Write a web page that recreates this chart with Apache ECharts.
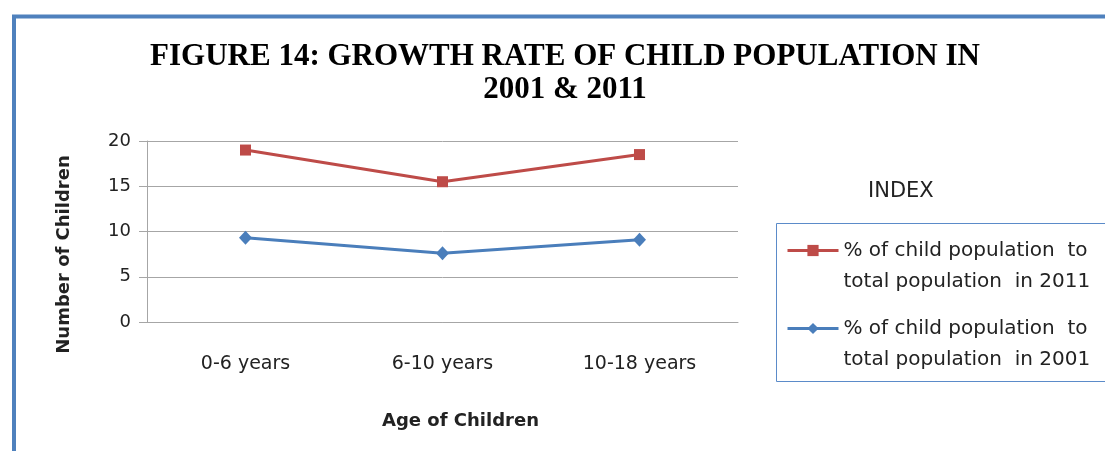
<!DOCTYPE html>
<html>
<head>
<meta charset="utf-8">
<script src="https://cdn.jsdelivr.net/npm/echarts@6/dist/echarts.min.js"></script>
<style>
  html, body { margin: 0; padding: 0; background: #fff; }
  #chart { width: 1105px; height: 451px; }
</style>
</head>
<body>
<div id="chart"></div>
<script>
// Age groups on the category axis
const categories = ['0-6 years', '6-10 years', '10-18 years'];
// Share of child population in the total population (%)
const share2011 = [19.0, 15.5, 18.5];
const share2001 = [9.3, 7.6, 9.1];
const name2011 = '% of child population  to\ntotal population  in 2011';
const name2001 = '% of child population  to\ntotal population  in 2001';
// Value axis ticks
const yMin = 0, yMax = 20, yStep = 5;

const RED = '#BE4B48';
const BLUE = '#4A7EBB';
const GRID = '#A6A6A6';
const SANS = '"DejaVu Sans", sans-serif';

const chart = echarts.init(document.getElementById('chart'), null, { renderer: 'canvas' });

chart.setOption({
  backgroundColor: '#fff',
  animation: false,
  title: {
    text: 'FIGURE 14: GROWTH RATE OF CHILD POPULATION IN\n2001 & 2011',
    left: 560,
    top: 35,
    textAlign: 'center',
    textStyle: {
      fontFamily: '"Liberation Serif", "DejaVu Serif", serif',
      fontWeight: 'bold',
      fontSize: 31,
      lineHeight: 33,
      color: '#000'
    }
  },
  legend: {
    orient: 'vertical',
    left: 786,
    top: 204,
    padding: 0,
    itemWidth: 51,
    itemHeight: 14,
    itemGap: -15,
    selectedMode: false,
    data: [name2011, name2001],
    lineStyle: { width: 3 },
    // leading blank line keeps the key symbol level with the first text line
    formatter: function (n) { return '\n' + n; },
    textStyle: {
      fontFamily: SANS,
      fontSize: 20,
      lineHeight: 31,
      color: '#222'
    }
  },
  grid: {
    left: 147,
    top: 141,
    right: 367,
    bottom: 129,
    containLabel: false
  },
  xAxis: {
    type: 'category',
    data: categories,
    boundaryGap: true,
    axisLine: { show: true, lineStyle: { color: GRID, width: 1 } },
    axisTick: { show: false },
    axisLabel: {
      margin: 33,
      fontFamily: SANS,
      fontSize: 19,
      color: '#222'
    },
    name: 'Age of Children',
    nameLocation: 'middle',
    nameGap: 90,
    nameTextStyle: {
      fontFamily: SANS,
      fontWeight: 'bold',
      fontSize: 18,
      color: '#222',
      padding: [0, 0, 0, 36]
    }
  },
  yAxis: {
    type: 'value',
    min: yMin,
    max: yMax,
    interval: yStep,
    axisLine: { show: true, lineStyle: { color: GRID, width: 1 } },
    axisTick: { show: true, length: 8, lineStyle: { color: GRID } },
    splitLine: { show: true, lineStyle: { color: GRID, width: 1 } },
    axisLabel: {
      margin: 16,
      fontFamily: SANS,
      fontSize: 18,
      color: '#222'
    },
    name: 'Number of Children',
    nameLocation: 'middle',
    nameGap: 74,
    nameTextStyle: {
      fontFamily: SANS,
      fontWeight: 'bold',
      fontSize: 18,
      color: '#222',
      padding: [0, 46, 0, 0]
    }
  },
  series: [
    {
      name: name2011,
      type: 'line',
      data: share2011,
      symbol: 'rect',
      symbolSize: 11,
      lineStyle: { color: RED, width: 3 },
      itemStyle: { color: RED }
    },
    {
      name: name2001,
      type: 'line',
      data: share2001,
      symbol: 'diamond',
      symbolSize: [13, 14],
      lineStyle: { color: BLUE, width: 3 },
      itemStyle: { color: BLUE }
    }
  ],
  graphic: [
    // outer frame (top and left edges)
    {
      type: 'polyline',
      shape: { points: [[14, 451], [14, 16.5], [1105, 16.5]] },
      style: { stroke: '#4F81BD', lineWidth: 4, fill: null },
      silent: true
    },
    // heading above the key
    {
      type: 'text',
      left: 868,
      top: 181,
      style: {
        text: 'INDEX',
        fontFamily: SANS,
        fontSize: 21,
        fill: '#222'
      },
      silent: true
    },
    // key border
    {
      type: 'rect',
      shape: { x: 776.5, y: 223.5, width: 340, height: 158 },
      style: { stroke: '#5B8BC9', lineWidth: 1, fill: null },
      silent: true,
      z: -1
    }
  ]
});
</script>
</body>
</html>
